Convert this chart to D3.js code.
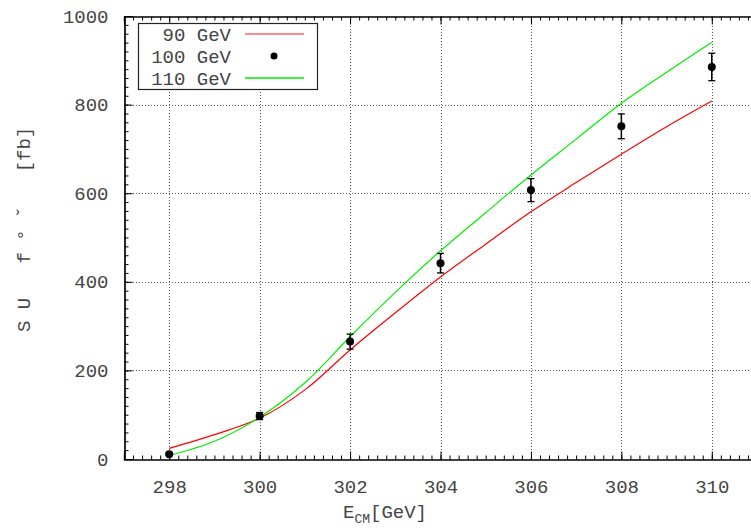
<!DOCTYPE html>
<html><head><meta charset="utf-8">
<script src="https://cdn.jsdelivr.net/npm/d3@7"></script>
<style>
body{margin:0;background:#fff;}
svg{display:block;}
text{font-family:"Liberation Mono","DejaVu Sans Mono",monospace;fill:#444;}
</style></head>
<body>
<svg id="c" width="751" height="530"></svg>
<script>
// Data
const curveE = [298, 299, 300, 301, 302, 303, 304, 305, 306, 307, 308, 309, 310];
const sigma90 = [24, 55, 92, 156, 246, 330, 411, 485, 558, 624, 688, 750, 808];
const sigma110 = [8, 40, 94, 172, 276, 376, 470, 556, 641, 722, 803, 873, 941];
const dataE = [298, 300, 302, 304, 306, 308, 310];
const data100 = [11, 97, 265, 442, 607, 751, 885];
const dataErr = [3, 8, 17, 22, 26, 28, 31];
const xTicks = [298, 300, 302, 304, 306, 308, 310];
const yTicks = [0, 200, 400, 600, 800, 1000];
const legendLabels = [" 90 GeV", "100 GeV", "110 GeV"];
const yLabel = "S U   f ° ˇ   [fb]";

(function () {
const svg = d3.select("#c");
const x = d3.scaleLinear().domain([297, 311]).range([124, 757]);
const y = d3.scaleLinear().domain([0, 1000]).range([459, 16]);
const FS = 19;
const FONT = '"Liberation Mono","DejaVu Sans Mono",monospace';
const TXT = "#444";

// grid
const grid = svg.append("g").attr("stroke", "#555").attr("stroke-width", 1).attr("stroke-dasharray", "1,2");
xTicks.forEach(v => grid.append("line").attr("x1", Math.round(x(v)) + 0.5).attr("x2", Math.round(x(v)) + 0.5).attr("y1", y(0)).attr("y2", y(1000)));
yTicks.filter(v => v > 0 && v < 1000).forEach(v => grid.append("line").attr("y1", Math.round(y(v)) + 0.5).attr("y2", Math.round(y(v)) + 0.5).attr("x1", x(297)).attr("x2", x(311)));

// axes (ticks inward)
const minorX = d3.range(297, 311.001, 0.2);
const minorY = d3.range(0, 1000.001, 20);
const gB = svg.append("g").attr("transform", `translate(0,${Math.round(y(0)) + 0.5})`)
  .call(d3.axisBottom(x).tickValues(minorX).tickSize(-4).tickFormat(""));
const gBM = svg.append("g").attr("transform", `translate(0,${Math.round(y(0)) + 0.5})`)
  .call(d3.axisBottom(x).tickValues(xTicks).tickSize(-8).tickPadding(20).tickFormat(d3.format("d")));
const gT = svg.append("g").attr("transform", `translate(0,${Math.round(y(1000)) + 0.5})`)
  .call(d3.axisTop(x).tickValues(minorX).tickSize(-4).tickFormat(""));
const gTM = svg.append("g").attr("transform", `translate(0,${Math.round(y(1000)) + 0.5})`)
  .call(d3.axisTop(x).tickValues(xTicks).tickSize(-8).tickFormat(""));
const gL = svg.append("g").attr("transform", `translate(${Math.round(x(297)) + 0.5},0)`)
  .call(d3.axisLeft(y).tickValues(minorY).tickSize(-4).tickFormat(""));
const gLM = svg.append("g").attr("transform", `translate(${Math.round(x(297)) + 0.5},0)`)
  .call(d3.axisLeft(y).tickValues(yTicks).tickSize(-8).tickPadding(16).tickFormat(d3.format("d")));
[gB, gBM, gT, gTM, gL, gLM].forEach(g => {
  g.selectAll("path").attr("stroke", "#000").attr("stroke-width", 1.2);
  g.selectAll("line").attr("stroke", "#000");
  g.selectAll("text").style("font-size", FS + "px").attr("fill", TXT).style("font-family", FONT);
});

// curves
const line = d3.line().x(d => x(d[0])).y(d => y(d[1])).curve(d3.curveCatmullRom.alpha(0.5));
svg.append("path").datum(curveE.map((e, i) => [e, sigma90[i]])).attr("d", line)
  .attr("fill", "none").attr("stroke", "#ff0000").attr("stroke-width", 1.2);
svg.append("path").datum(curveE.map((e, i) => [e, sigma110[i]])).attr("d", line)
  .attr("fill", "none").attr("stroke", "#00ee00").attr("stroke-width", 1.2);

// data points with error bars
const pts = svg.append("g");
dataE.forEach((e, i) => {
  const cx = x(e), cy = y(data100[i]), t = y(data100[i] + dataErr[i]), b = y(data100[i] - dataErr[i]);
  pts.append("line").attr("x1", cx).attr("x2", cx).attr("y1", t).attr("y2", b).attr("stroke", "#000").attr("stroke-width", 1.5);
  pts.append("line").attr("x1", cx - 3.5).attr("x2", cx + 3.5).attr("y1", t).attr("y2", t).attr("stroke", "#000").attr("stroke-width", 1.3);
  pts.append("line").attr("x1", cx - 3.5).attr("x2", cx + 3.5).attr("y1", b).attr("y2", b).attr("stroke", "#000").attr("stroke-width", 1.3);
  pts.append("circle").attr("cx", cx).attr("cy", cy).attr("r", 4).attr("fill", "#000");
});

// legend
const lg = svg.append("g");
lg.append("rect").attr("x", 138.5).attr("y", 23.5).attr("width", 179).attr("height", 66)
  .attr("fill", "#fff").attr("stroke", "#222").attr("stroke-width", 1.2);
const rowY = [34, 56, 78];
legendLabels.forEach((t, i) => {
  lg.append("text").attr("x", 231).attr("y", rowY[i]).attr("dy", "0.35em").attr("text-anchor", "end")
    .style("font-size", FS + "px").attr("fill", TXT).style("white-space", "pre").text(t);
});
lg.append("line").attr("x1", 245).attr("x2", 304).attr("y1", rowY[0]).attr("y2", rowY[0]).attr("stroke", "#ff6666").attr("stroke-width", 1.5);
lg.append("circle").attr("cx", 274).attr("cy", rowY[1]).attr("r", 3.5).attr("fill", "#000");
lg.append("line").attr("x1", 245).attr("x2", 304).attr("y1", rowY[2]).attr("y2", rowY[2]).attr("stroke", "#00ee00").attr("stroke-width", 1.5);

// axis labels
const xl = svg.append("text").attr("x", 343).attr("y", 518).style("font-size", FS + "px").attr("fill", TXT);
xl.append("tspan").text("E");
xl.append("tspan").attr("dy", 5).style("font-size", "13px").text("CM");
xl.append("tspan").attr("dy", -5).text("[GeV]");

svg.append("text").attr("transform", "translate(30,332) rotate(-90)")
  .style("font-size", FS + "px").attr("fill", TXT).style("white-space", "pre").text(yLabel);
})();
</script>
</body></html>
